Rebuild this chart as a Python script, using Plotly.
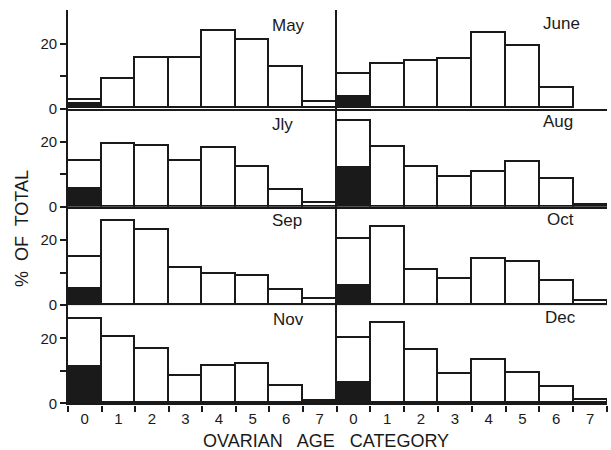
import plotly.graph_objects as go

categories = ["0", "1", "2", "3", "4", "5", "6", "7"]
months = ["May", "June", "Jly", "Aug", "Sep", "Oct", "Nov", "Dec"]

# total % per ovarian age category
totals = {
    "May":  [2.7, 9.1, 15.6, 15.6, 23.9, 21.0, 12.8, 1.9],
    "June": [10.7, 13.6, 14.7, 15.1, 23.2, 19.3, 6.2, 0.0],
    "Jly":  [14.2, 19.5, 18.9, 14.1, 18.1, 12.3, 5.3, 1.4],
    "Aug":  [26.5, 18.6, 12.5, 9.3, 10.8, 13.9, 8.8, 0.8],
    "Sep":  [14.9, 25.9, 23.1, 11.6, 9.7, 9.0, 4.8, 1.8],
    "Oct":  [20.5, 24.1, 10.8, 8.0, 14.3, 13.3, 7.4, 1.3],
    "Nov":  [25.8, 20.5, 16.7, 8.4, 11.4, 12.1, 5.3, 0.8],
    "Dec":  [20.0, 24.8, 16.4, 8.9, 13.3, 9.2, 4.9, 0.9],
}
# black (shaded) portion of category 0
shaded = {"May": 1.2, "June": 3.4, "Jly": 5.5, "Aug": 12.1,
          "Sep": 4.9, "Oct": 5.8, "Nov": 11.1, "Dec": 6.2}

W, H = 611, 450
ink = "#1a1a1a"
font = dict(family="Liberation Sans, Arial, sans-serif", size=15, color=ink)

col_px = [(68, 336.5), (336.5, 607)]
row_h = 98.3
row_bottom = [108.5 + row_h * i for i in range(4)]
label_pos = {"May": (288, 25), "June": (561, 23), "Jly": (282, 124), "Aug": (558, 121),
             "Sep": (287, 221), "Oct": (560, 219), "Nov": (288, 319), "Dec": (560, 317)}

fig = go.Figure()
layout = {}
annotations = []
for k, m in enumerate(months):
    r, c = divmod(k, 2)
    idx = k + 1
    xa = "x" if idx == 1 else f"x{idx}"
    ya = "y" if idx == 1 else f"y{idx}"
    tot = totals[m]
    blk = [shaded[m]] + [None] * 7
    white = [t - (b or 0) for t, b in zip(tot, blk)]
    white = [w if w > 0 else None for w in white]
    fig.add_trace(go.Bar(x=categories, y=blk, xaxis=xa, yaxis=ya,
                         marker=dict(color=ink, line=dict(color=ink, width=1.5)),
                         showlegend=False, hoverinfo="skip"))
    fig.add_trace(go.Bar(x=categories, y=white, xaxis=xa, yaxis=ya,
                         marker=dict(color="white", line=dict(color=ink, width=1.8)),
                         showlegend=False))
    x0, x1 = col_px[c]
    yb = row_bottom[r]
    yt = yb - row_h
    bottom = r == 3
    xaxis = dict(domain=[x0 / W, x1 / W], anchor=ya, type="category", automargin=False,
                 range=[-0.5, 7.5], showline=True, linecolor=ink, linewidth=2.4,
                 showgrid=False, zeroline=False, fixedrange=True,
                 showticklabels=bottom, tickfont=font,
                 ticks="outside" if bottom else "", tickson="boundaries",
                 ticklen=6, tickwidth=1.5, tickcolor=ink)
    yaxis = dict(domain=[1 - yb / H, 1 - yt / H], anchor=xa, range=[0, 30.25],
                 automargin=False, showline=True, linecolor=ink, linewidth=1.8,
                 showgrid=False, zeroline=False, fixedrange=True)
    if c == 0:
        yaxis.update(tickvals=[0, 10, 20], ticktext=["0", "", "20"], ticks="outside",
                     ticklen=6, tickwidth=1.5, tickcolor=ink, tickfont=font)
    else:
        yaxis.update(showticklabels=False, ticks="")
    layout["xaxis" if idx == 1 else f"xaxis{idx}"] = xaxis
    layout["yaxis" if idx == 1 else f"yaxis{idx}"] = yaxis
    lx, ly = label_pos[m]
    annotations.append(dict(text=m, x=lx / W, y=1 - ly / H, xref="paper", yref="paper",
                            xanchor="center", yanchor="middle",
                            showarrow=False, font=dict(font, size=17)))

annotations.append(dict(text="OVARIAN   AGE   CATEGORY", x=326 / W, y=1 - 441 / H,
                        xref="paper", yref="paper", xanchor="center", yanchor="middle",
                        showarrow=False, font=dict(font, size=18)))
annotations.append(dict(text="%  OF  TOTAL", x=22 / W, y=1 - 229 / H, xref="paper",
                        yref="paper", xanchor="center", yanchor="middle",
                        showarrow=False, textangle=-90,
                        font=dict(font, size=18)))

fig.update_layout(width=W, height=H, margin=dict(l=0, r=0, t=0, b=0, autoexpand=False),
                  paper_bgcolor="white", plot_bgcolor="white",
                  barmode="stack", bargap=0, annotations=annotations, **layout)
fig.write_html("out.html")
